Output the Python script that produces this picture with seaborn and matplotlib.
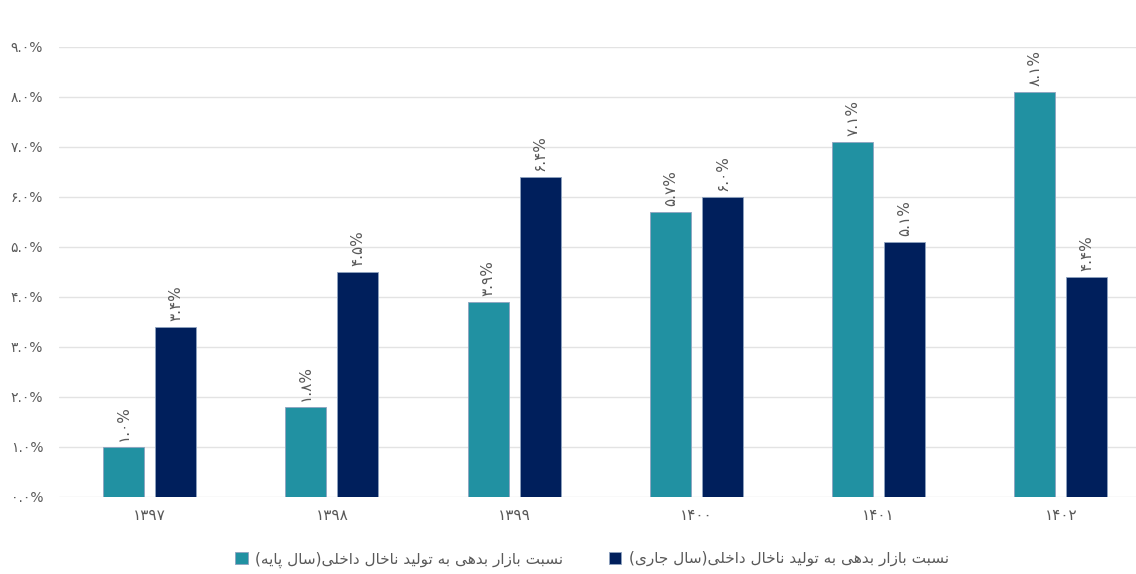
import matplotlib
matplotlib.use("Agg")
import matplotlib.pyplot as plt
import seaborn as sns
import pandas as pd

years = ["1397", "1398", "1399", "1400", "1401", "1402"]
base_year = [1.0, 1.8, 3.9, 5.7, 7.1, 8.1]
current_year = [3.4, 4.5, 6.4, 6.0, 5.1, 4.4]
series_names = [
    "نسبت بازار بدهی به تولید ناخال داخلی(سال پایه)",
    "نسبت بازار بدهی به تولید ناخال داخلی(سال جاری)",
]
y_ticks = [0, 1, 2, 3, 4, 5, 6, 7, 8, 9]

TEAL = "#2191A2"
NAVY = "#001F5C"
GREY = "#595959"

FA_DIGITS = str.maketrans("0123456789", "۰۱۲۳۴۵۶۷۸۹")

# presentation forms: isolated, final, initial, medial (None = does not join forward)
FORMS = {
    "ا": ("\uFE8D", "\uFE8E", None, None),
    "ب": ("\uFE8F", "\uFE90", "\uFE91", "\uFE92"),
    "پ": ("\uFB56", "\uFB57", "\uFB58", "\uFB59"),
    "ت": ("\uFE95", "\uFE96", "\uFE97", "\uFE98"),
    "ج": ("\uFE9D", "\uFE9E", "\uFE9F", "\uFEA0"),
    "خ": ("\uFEA5", "\uFEA6", "\uFEA7", "\uFEA8"),
    "د": ("\uFEA9", "\uFEAA", None, None),
    "ر": ("\uFEAD", "\uFEAE", None, None),
    "ز": ("\uFEAF", "\uFEB0", None, None),
    "س": ("\uFEB1", "\uFEB2", "\uFEB3", "\uFEB4"),
    "ل": ("\uFEDD", "\uFEDE", "\uFEDF", "\uFEE0"),
    "ن": ("\uFEE5", "\uFEE6", "\uFEE7", "\uFEE8"),
    "ه": ("\uFEE9", "\uFEEA", "\uFEEB", "\uFEEC"),
    "و": ("\uFEED", "\uFEEE", None, None),
    "ی": ("\uFBFC", "\uFBFD", "\uFBFE", "\uFBFF"),
}


def rtl(text):
    # crude shaping + visual reordering, matplotlib has no bidi support
    out = []
    for i, ch in enumerate(text):
        if ch not in FORMS:
            out.append(ch)
            continue
        prev = text[i - 1] if i > 0 else ""
        nxt = text[i + 1] if i + 1 < len(text) else ""
        join_prev = prev in FORMS and FORMS[prev][2] is not None
        join_next = FORMS[ch][2] is not None and nxt in FORMS
        iso, fin, ini, med = FORMS[ch]
        if join_prev and join_next:
            out.append(med)
        elif join_prev:
            out.append(fin)
        elif join_next:
            out.append(ini)
        else:
            out.append(iso)
    s = "".join(out[::-1])
    return s.translate(str.maketrans("()", ")("))


def fa(v):
    return f"{v:.1f}%".translate(FA_DIGITS)


df = pd.DataFrame({
    "year": [y.translate(FA_DIGITS) for y in years] * 2,
    "value": base_year + current_year,
    "series": [rtl(series_names[0])] * len(years) + [rtl(series_names[1])] * len(years),
})

sns.set_theme(style="white")
plt.rcParams["font.family"] = ["DejaVu Sans"]

fig = plt.figure(figsize=(11.36, 5.74), dpi=100)
ax = fig.add_axes([58.5 / 1136, 77 / 574, 1093.5 / 1136, 450 / 574])

sns.barplot(data=df, x="year", y="value", hue="series",
            palette=[TEAL, NAVY], saturation=1, width=0.571, gap=0.21,
            edgecolor="#8fa3c0", linewidth=0.6, ax=ax)

for cont, vals in zip(ax.containers, [base_year, current_year]):
    ax.bar_label(cont, labels=[fa(v) for v in vals], rotation=90,
                 padding=4, color=GREY, fontsize=11)

ax.set_ylim(0, 9)
ax.set_yticks(y_ticks)
ax.set_yticklabels([fa(t) for t in y_ticks], color=GREY, fontsize=10)
ax.tick_params(axis="x", colors=GREY, labelsize=11, length=0, pad=8)
ax.tick_params(axis="y", length=0, pad=11)
ax.set_xlabel("")
ax.set_ylabel("")
ax.yaxis.grid(True, color="#e3e3e3", linewidth=1)
ax.set_axisbelow(True)
for sp in ax.spines.values():
    sp.set_visible(False)

handles, labels = ax.get_legend_handles_labels()
ax.legend(handles, labels, loc="upper center", bbox_to_anchor=(0.5 - 13 / 1093.5, -0.09),
          ncol=2, frameon=False, fontsize=11, handlelength=0.8, handleheight=0.8,
          columnspacing=3.0, handletextpad=0.5, labelcolor=GREY)

fig.savefig("out.png", dpi=100)
